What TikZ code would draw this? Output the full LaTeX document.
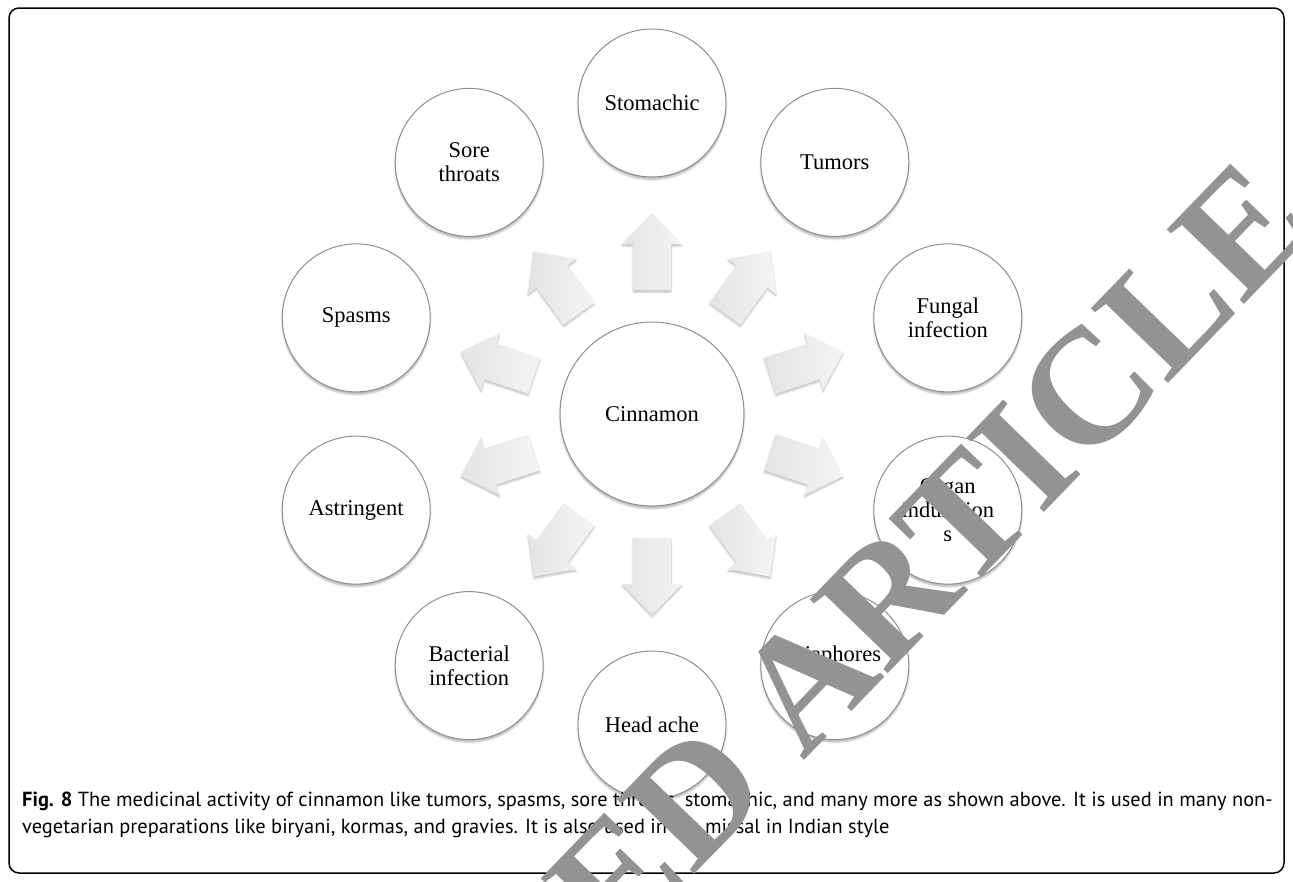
\documentclass[tikz,border=0pt]{standalone}
\usepackage{fontspec}
\setmainfont{Liberation Serif}
\newfontfamily\capfont{PT Sans}
\newfontfamily\wmfont{Liberation Serif}
\usetikzlibrary{calc,shadows,shadows.blur}
\definecolor{ring}{HTML}{8E8E8E}
\definecolor{wmgray}{HTML}{939393}
\definecolor{arrowlight}{HTML}{F4F4F4}
\definecolor{arrowdark}{HTML}{E4E4E4}
\begin{document}
\begin{tikzpicture}[x=1pt,y=-1pt,
  bubble/.style={circle, draw=ring, line width=1pt, fill=white, minimum size=148pt,
    inner sep=0pt, align=center, font=\fontsize{22.5}{24}\selectfont,
    blur shadow={shadow xshift=0pt, shadow yshift=-2.5pt, shadow opacity=30, shadow blur steps=6}},
  hub/.style={bubble, minimum size=184pt},
  ray/.style={left color=arrowdark, right color=arrowlight, draw=none,
    blur shadow={shadow xshift=0pt, shadow yshift=-2pt, shadow opacity=25, shadow blur steps=5}},
  captxt/.style={anchor=base west, inner sep=0pt, font=\capfont\fontsize{20.4}{24}\selectfont},
  wmark/.style={rotate=46, inner sep=0pt, text=wmgray, font=\wmfont\bfseries\fontsize{164}{164}\selectfont}
]
\useasboundingbox (0,0) rectangle (1293,881);
\draw[line width=1.5pt, rounded corners=10pt] (9,8) rectangle (1284,873);

\coordinate (c) at (652,414);
% arrows
\foreach \a in {90,54,18,-18,-54,-90,-126,-162,162,126}{
  \begin{scope}[shift={(c)}, rotate=\a]
    \path[ray] (124,-19) -- (170,-19) -- (170,-30) -- (201,0) -- (170,30) -- (170,19) -- (124,19) -- cycle;
  \end{scope}
}
% hub
\node[hub] (cin) at (c) {Cinnamon};
% outer circles (page angle a -> coordinate angle -a because y is flipped)
\node[bubble] (sto) at ($(c)+(-90:311)$) {Stomachic};
\node[bubble] (tum) at ($(c)+(-54:311)$) {Tumors};
\node[bubble] (fun) at ($(c)+(-18:311)$) {Fungal\\infection};
\node[bubble] (org) at ($(c)+(18:311)$) {Organ\\induration\\s};
\node[bubble] (dia) at ($(c)+(54:311)$) {Diaphores\\is};
\node[bubble] (hea) at ($(c)+(90:311)$) {Head ache};
\node[bubble] (bac) at ($(c)+(126:311)$) {Bacterial\\infection};
\node[bubble] (ast) at ($(c)+(162:311)$) {Astringent};
\node[bubble] (spa) at ($(c)+(198:311)$) {Spasms};
\node[bubble] (sor) at ($(c)+(234:311)$) {Sore\\throats};

% caption
\node[captxt] (cap1) at (22,806) {\textbf{Fig. 8} The medicinal activity of cinnamon like tumors, spasms, sore throats, stomachic, and many more as shown above. It is used in many non-};
\node[captxt] (cap2) at (22,833) {vegetarian preparations like biryani, kormas, and gravies. It is also used in tea missal in Indian style};

% watermark
\node[wmark, anchor=base east] (wm) at (1319,228) {RETRACTED ARTICLE};
\end{tikzpicture}
\end{document}
